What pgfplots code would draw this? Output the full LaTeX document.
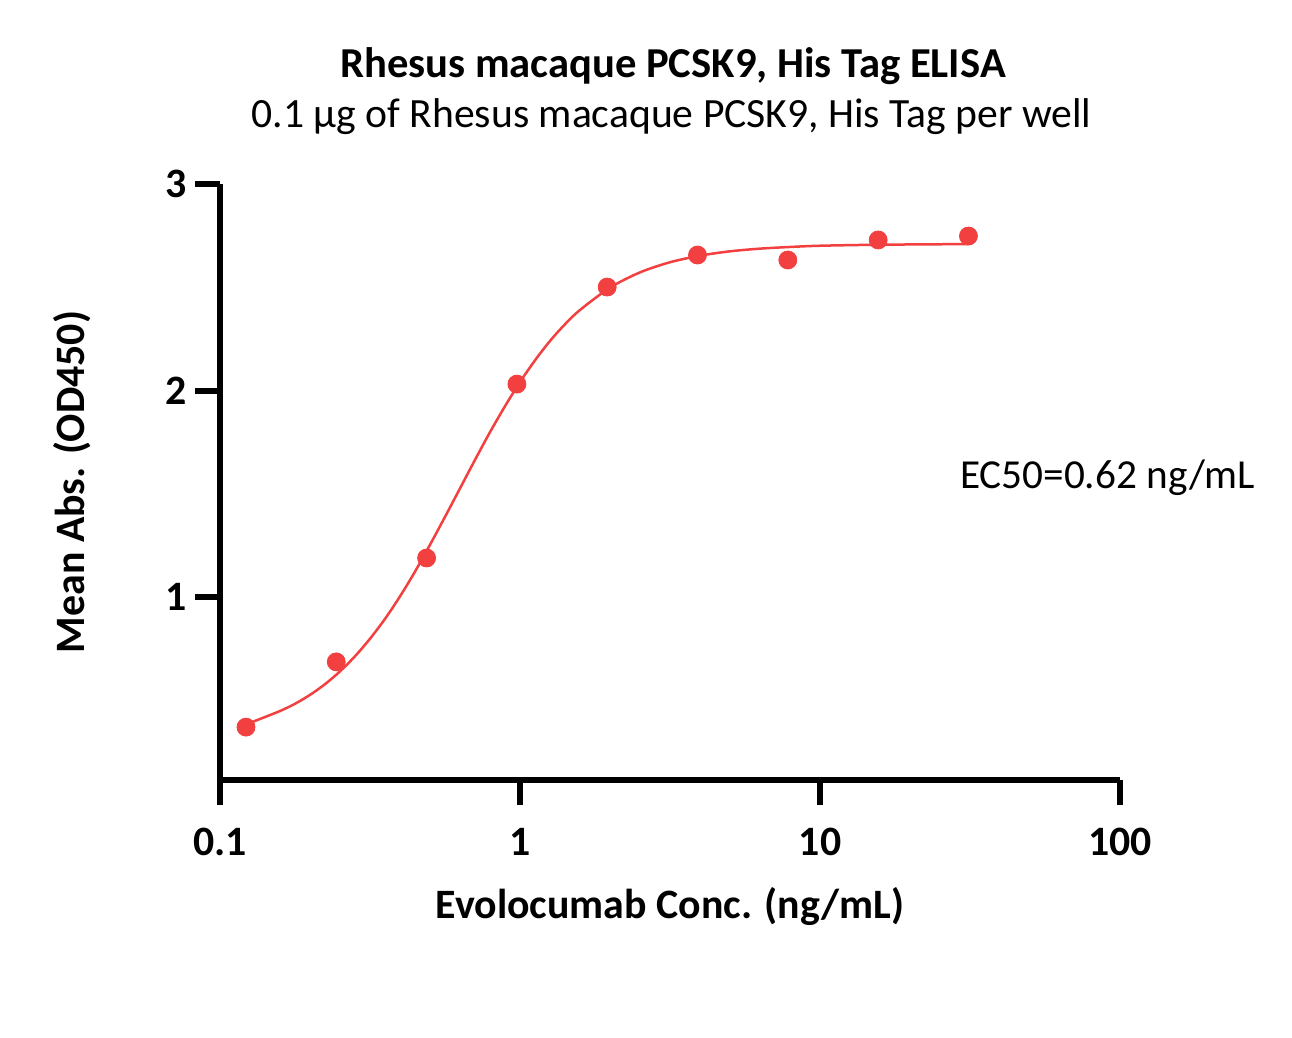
\documentclass[border=0pt]{standalone}
\usepackage{pgfplots}
\pgfplotsset{compat=1.18}
\usepackage{fontspec}
\setmainfont{Carlito}
\definecolor{ecred}{RGB}{242,64,64}
\begin{document}
\begin{tikzpicture}
\path (0,0) rectangle (646bp,519bp);
\begin{axis}[
  at={(110bp,129bp)}, anchor=south west,
  scale only axis, width=450bp, height=298bp,
  xmode=log, xmin=0.1, xmax=100,
  ymin=0.114, ymax=3,
  axis x line*=bottom, axis y line*=left,
  axis line style={line width=3bp,-},
  every tick/.style={line width=3bp, black},
  tick align=outside, major tick length=12.5bp,
  xminorticks=false, yminorticks=false,
  xtick={0.1,1,10,100}, xticklabels={0.1,1,10,100},
  ytick={1,2,3}, yticklabels={1,2,3},
  /pgf/number format/assume math mode=true,
  tick label style={font=\bfseries\fontsize{21}{24}\selectfont},
  xticklabel style={anchor=base, yshift=-25bp},
  yticklabel style={anchor=east, inner sep=0pt, xshift=-4bp},
  xlabel={Evolocumab Conc. (ng/mL)},
  ylabel={Mean Abs. (OD450)},
  label style={font=\bfseries\fontsize{21}{24}\selectfont},
  xlabel style={at={(axis description cs:0.5,-0.2332)}, anchor=base},
  ylabel style={at={(axis description cs:-0.1644,0.5)}, anchor=center, rotate=0},
  clip=false,
]
\addplot[ecred, line width=1.25bp, smooth, no marks] coordinates {
(0.1221,0.383) (0.1413,0.419) (0.1585,0.448) (0.1778,0.483) (0.1995,0.526)
(0.2239,0.578) (0.2512,0.640) (0.2818,0.713) (0.3162,0.798) (0.3548,0.894)
(0.3981,1.003) (0.4467,1.123) (0.5012,1.253) (0.5623,1.388) (0.6310,1.526)
(0.7079,1.664) (0.7943,1.798) (0.8913,1.924) (1.000,2.041) (1.122,2.146)
(1.259,2.240) (1.413,2.321) (1.585,2.390) (1.995,2.498) (2.512,2.572)
(3.162,2.621) (3.981,2.653) (5.012,2.674) (6.310,2.687) (7.943,2.695)
(10.00,2.701) (15.85,2.706) (31.25,2.709)
};
\addplot[only marks, mark=*, mark size=4.5bp, mark options={ecred, fill=ecred, draw=ecred}] coordinates {
(0.1221,0.370) (0.2441,0.686) (0.4883,1.189) (0.9766,2.031) (1.953,2.501)
(3.906,2.656) (7.813,2.632) (15.63,2.729) (31.25,2.748)
};
\node[anchor=base, font=\bfseries\fontsize{21.4}{24}\selectfont] at (axis description cs:0.5033,1.1779) {Rhesus macaque PCSK9, His Tag ELISA};
\node[anchor=base, font=\fontsize{20.9}{24}\selectfont] at (axis description cs:0.5017,1.0940) {0.1 µg of Rhesus macaque PCSK9, His Tag per well};
\node[anchor=base west, font=\fontsize{20.7}{24}\selectfont] at (axis description cs:0.8144,0.4899) {EC50=0.62 ng/mL};
\end{axis}
\end{tikzpicture}
\end{document}
